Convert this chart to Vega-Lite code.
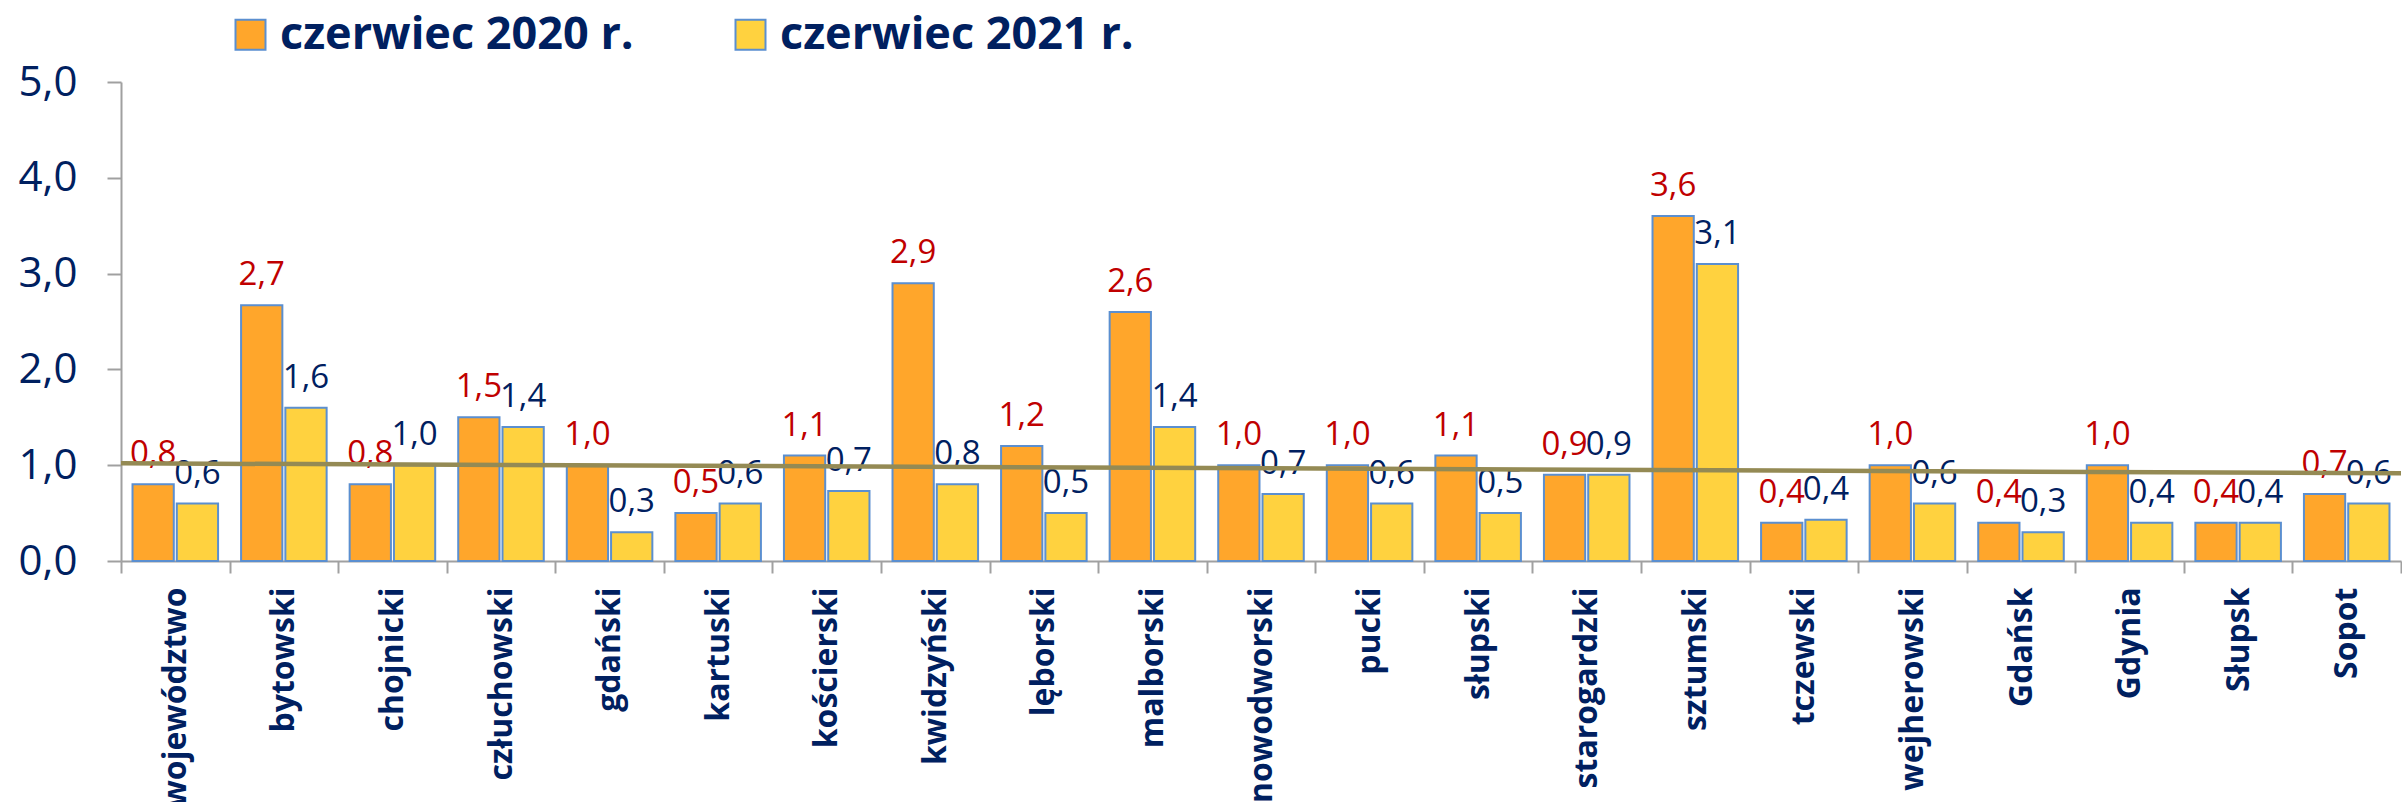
{
  "$schema": "https://vega.github.io/schema/vega-lite/v6.json",
  "autosize": {"type": "none"},
  "padding": {"left": 121, "top": 82, "right": 1, "bottom": 241},
  "width": 2280,
  "height": 479,
  "background": "white",
  "config": {
    "view": {"stroke": null},
    "locale": {"number": {"decimal": ",", "thousands": " ", "grouping": [3], "currency": ["", " zł"]}},
    "font": "Open Sans"
  },
  "datasets": {
    "bars": [
      {"region": "województwo", "year": "czerwiec 2020 r.", "value": 0.8},
      {"region": "województwo", "year": "czerwiec 2021 r.", "value": 0.6},
      {"region": "bytowski", "year": "czerwiec 2020 r.", "value": 2.67},
      {"region": "bytowski", "year": "czerwiec 2021 r.", "value": 1.6},
      {"region": "chojnicki", "year": "czerwiec 2020 r.", "value": 0.8},
      {"region": "chojnicki", "year": "czerwiec 2021 r.", "value": 1.0},
      {"region": "człuchowski", "year": "czerwiec 2020 r.", "value": 1.5},
      {"region": "człuchowski", "year": "czerwiec 2021 r.", "value": 1.4},
      {"region": "gdański", "year": "czerwiec 2020 r.", "value": 1.0},
      {"region": "gdański", "year": "czerwiec 2021 r.", "value": 0.3},
      {"region": "kartuski", "year": "czerwiec 2020 r.", "value": 0.5},
      {"region": "kartuski", "year": "czerwiec 2021 r.", "value": 0.6},
      {"region": "kościerski", "year": "czerwiec 2020 r.", "value": 1.1},
      {"region": "kościerski", "year": "czerwiec 2021 r.", "value": 0.73},
      {"region": "kwidzyński", "year": "czerwiec 2020 r.", "value": 2.9},
      {"region": "kwidzyński", "year": "czerwiec 2021 r.", "value": 0.8},
      {"region": "lęborski", "year": "czerwiec 2020 r.", "value": 1.2},
      {"region": "lęborski", "year": "czerwiec 2021 r.", "value": 0.5},
      {"region": "malborski", "year": "czerwiec 2020 r.", "value": 2.6},
      {"region": "malborski", "year": "czerwiec 2021 r.", "value": 1.4},
      {"region": "nowodworski", "year": "czerwiec 2020 r.", "value": 1.0},
      {"region": "nowodworski", "year": "czerwiec 2021 r.", "value": 0.7},
      {"region": "pucki", "year": "czerwiec 2020 r.", "value": 1.0},
      {"region": "pucki", "year": "czerwiec 2021 r.", "value": 0.6},
      {"region": "słupski", "year": "czerwiec 2020 r.", "value": 1.1},
      {"region": "słupski", "year": "czerwiec 2021 r.", "value": 0.5},
      {"region": "starogardzki", "year": "czerwiec 2020 r.", "value": 0.9},
      {"region": "starogardzki", "year": "czerwiec 2021 r.", "value": 0.9},
      {"region": "sztumski", "year": "czerwiec 2020 r.", "value": 3.6},
      {"region": "sztumski", "year": "czerwiec 2021 r.", "value": 3.1},
      {"region": "tczewski", "year": "czerwiec 2020 r.", "value": 0.4},
      {"region": "tczewski", "year": "czerwiec 2021 r.", "value": 0.43},
      {"region": "wejherowski", "year": "czerwiec 2020 r.", "value": 1.0},
      {"region": "wejherowski", "year": "czerwiec 2021 r.", "value": 0.6},
      {"region": "Gdańsk", "year": "czerwiec 2020 r.", "value": 0.4},
      {"region": "Gdańsk", "year": "czerwiec 2021 r.", "value": 0.3},
      {"region": "Gdynia", "year": "czerwiec 2020 r.", "value": 1.0},
      {"region": "Gdynia", "year": "czerwiec 2021 r.", "value": 0.4},
      {"region": "Słupsk", "year": "czerwiec 2020 r.", "value": 0.4},
      {"region": "Słupsk", "year": "czerwiec 2021 r.", "value": 0.4},
      {"region": "Sopot", "year": "czerwiec 2020 r.", "value": 0.7},
      {"region": "Sopot", "year": "czerwiec 2021 r.", "value": 0.6}
    ],
    "trend": [
      {"t": 0, "v": 1.02},
      {"t": 21, "v": 0.915}
    ]
  },
  "layer": [
    {
      "data": {"name": "bars"},
      "encoding": {
        "x": {
          "field": "region", "type": "nominal", "sort": null, "title": null,
          "scale": {"paddingInner": 0, "paddingOuter": 0},
          "axis": {
            "tickBand": "extent", "tickSize": 12, "tickColor": "#A0A0A0", "tickWidth": 2,
            "domainColor": "#A0A0A0", "domainWidth": 2,
            "labelAngle": -90, "labelAlign": "right", "labelBaseline": "middle",
            "labelPadding": 14, "labelFont": "Open Sans", "labelFontWeight": "bold",
            "labelFontSize": 32, "labelColor": "#002060", "labelOverlap": false,
            "labelLimit": 0
          }
        },
        "xOffset": {
          "field": "year", "type": "nominal",
          "scale": {"paddingInner": 0.068, "paddingOuter": 0.26}
        },
        "y": {
          "field": "value", "type": "quantitative", "title": null,
          "scale": {"domain": [0, 5], "nice": false},
          "axis": {
            "values": [0, 1, 2, 3, 4, 5], "format": ",.1f", "grid": false,
            "tickSize": 14, "tickColor": "#A0A0A0", "tickWidth": 2,
            "domainColor": "#A0A0A0", "domainWidth": 2,
            "labelPadding": 30, "labelFont": "Open Sans", "labelFontSize": 42,
            "labelColor": "#002060"
          }
        }
      },
      "layer": [
        {
          "mark": {"type": "bar", "stroke": "#5B8FD0", "strokeWidth": 2},
          "encoding": {
            "color": {
              "field": "year", "type": "nominal",
              "scale": {"domain": ["czerwiec 2020 r.", "czerwiec 2021 r."], "range": ["#FFA62B", "#FFD23F"]},
              "legend": {
                "title": null, "orient": "none", "direction": "horizontal",
                "legendX": 107, "legendY": -70, "padding": 0,
                "symbolType": "square", "symbolSize": 900,
                "symbolStrokeColor": "#5B8FD0", "symbolStrokeWidth": 2,
                "labelFont": "Open Sans", "labelFontWeight": "bold", "labelFontSize": 45,
                "labelColor": "#002060", "labelOffset": 7, "labelLimit": 0,
                "columnPadding": 94
              }
            }
          }
        },
        {
          "mark": {"type": "text", "baseline": "alphabetic", "dy": -20, "font": "Open Sans", "fontSize": 33},
          "encoding": {
            "text": {"field": "value", "type": "quantitative", "format": ",.1f"},
            "color": {
              "condition": {"test": "datum.year == 'czerwiec 2020 r.'", "value": "#C00000"},
              "value": "#002060"
            }
          }
        }
      ]
    },
    {
      "data": {"name": "trend"},
      "mark": {"type": "line", "color": "#948A54", "strokeWidth": 4.5},
      "encoding": {
        "x": {"field": "t", "type": "quantitative", "scale": {"domain": [0, 21], "nice": false, "zero": false}, "axis": null},
        "y": {"field": "v", "type": "quantitative"}
      }
    }
  ],
  "resolve": {"scale": {"x": "independent"}}
}
